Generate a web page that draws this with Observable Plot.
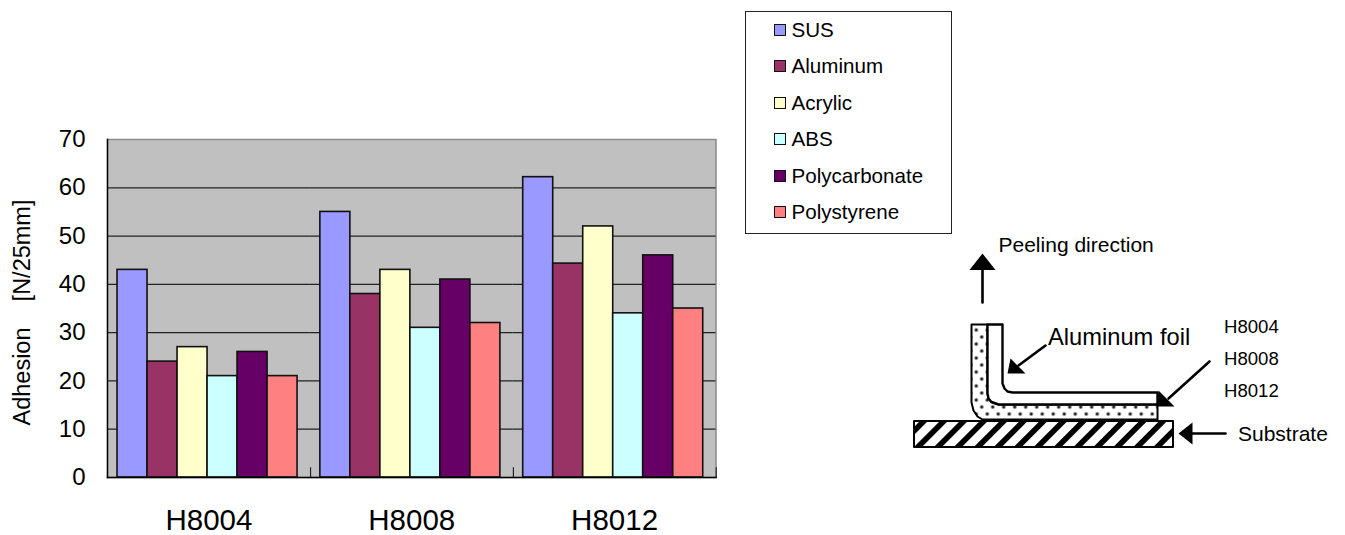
<!DOCTYPE html>
<html>
<head>
<meta charset="utf-8">
<script src="https://cdn.jsdelivr.net/npm/d3@7"></script>
<script src="https://cdn.jsdelivr.net/npm/@observablehq/plot@0.6"></script>
<style>
html,body{margin:0;padding:0;background:#fff;overflow:hidden}
body{width:1345px;height:535px;position:relative;font-family:"Liberation Sans",Arial,sans-serif;color:#000}
#chart,#diagram{position:absolute;left:0;top:0}
#chart svg,#diagram svg{display:block;background:transparent}
#legend{position:absolute;left:745px;top:11px;width:205px;height:221px;border:1px solid #222;box-sizing:content-box}
#legend .row{position:absolute;left:28px;display:flex;align-items:center;height:24px;font-size:20.6px;white-space:nowrap}
#legend .sw{width:10px;height:10px;border:1.5px solid #111;margin-right:5.5px;flex:none}
</style>
</head>
<body>
<svg width="0" height="0" style="position:absolute">
  <defs>
    <pattern id="dots" patternUnits="userSpaceOnUse" width="11" height="14" patternTransform="translate(973,326)">
      <rect width="11" height="14" fill="#fff"/>
      <circle cx="2.75" cy="3.5" r="1.7" fill="#222"/>
      <circle cx="8.25" cy="10.5" r="1.7" fill="#222"/>
    </pattern>
    <pattern id="hatch" patternUnits="userSpaceOnUse" width="14.1" height="14.1" patternTransform="translate(920,420) rotate(45)">
      <rect width="14.1" height="14.1" fill="#fff"/>
      <rect width="5.6" height="14.1" fill="#000"/>
    </pattern>
  </defs>
</svg>
<div id="chart"></div>
<div id="diagram"></div>
<div id="legend"></div>
<script>
const categories = ["H8004", "H8008", "H8012"];
const materials = ["SUS", "Aluminum", "Acrylic", "ABS", "Polycarbonate", "Polystyrene"];
const colors = ["#9999ff", "#993366", "#ffffcc", "#ccffff", "#660066", "#ff8080"];
const valuesH8004 = [43, 24, 27, 21, 26, 21];
const valuesH8008 = [55, 38, 43, 31, 41, 32];
const valuesH8012 = [62.2, 44.3, 52, 34, 46, 35];
const gridTicks = [10, 20, 30, 40, 50, 60];
const yTicks = [0, 10, 20, 30, 40, 50, 60, 70];
const yTitle = "Adhesion\u00a0\u00a0\u00a0\u00a0[N/25mm]";

const rows = [valuesH8004, valuesH8008, valuesH8012].flatMap((vals, i) =>
  vals.map((value, j) => ({category: categories[i], material: materials[j], value})));

const font = '"Liberation Sans", Arial, sans-serif';

const chart = Plot.plot({
  width: 1345, height: 535,
  marginLeft: 107, marginRight: 629.5, marginTop: 139, marginBottom: 58,
  style: {fontFamily: font, color: "#000", background: "transparent"},
  fx: {domain: categories, padding: 0, label: null, round: false},
  x: {domain: materials, paddingInner: 0, paddingOuter: 0.38, align: 0.44, axis: null, label: null, round: false},
  y: {domain: [0, 70], label: null},
  color: {domain: materials, range: colors},
  marks: [
    Plot.frame({fill: "#c0c0c0", stroke: "#8a8a8a", strokeWidth: 1.5, facet: "super"}),
    Plot.ruleY(gridTicks, {stroke: "#222", strokeWidth: 1.2}),
    Plot.axisY({ticks: yTicks, tickSize: 0, tickPadding: 22, fontSize: 24, label: null, anchor: "left"}),
    Plot.axisFx({tickSize: 0, tickPadding: 32, fontSize: 29.5, label: null, anchor: "bottom"}),
    Plot.ruleX(categories, {fx: d => d, x: () => materials[materials.length - 1], y1: 0, y2: 2, dx: 28, stroke: "#222", strokeWidth: 1.2}),
    Plot.barY(rows, {fx: "category", x: "material", y: "value", fill: "material", stroke: "#111", strokeWidth: 1.6}),
    Plot.frame({anchor: "left", stroke: "#000", strokeWidth: 1.4, facet: "super"}),
    Plot.frame({anchor: "bottom", stroke: "#000", strokeWidth: 1.6, facet: "super"})
  ]
});
document.getElementById("chart").append(chart);

/* Peel-test sketch, in page pixels */
const adhesiveOutline = [[971,324],[987,324],[987,393],[988,398],[991,401.5],[998,404],[1157,404],[1157,419],[982,419],[977,416],[973,410],[971,402],[971,324]];
const foilOutline = [[987,324],[1002,324],[1002,383],[1004,388],[1007,391],[1012,392],[1157,392],[1157,404],[998,404],[991,401.5],[988,398],[987,393],[987,324]];
const substrateOutline = [[913.5,420.5],[1172.5,420.5],[1172.5,446.5],[913.5,446.5],[913.5,420.5]];
const shafts = [
  [[982,302],[982,268]],
  [[1045,345],[1018,365]],
  [[1209,361],[1168,398]],
  [[1225,433],[1191,433]]
];
const heads = [
  [[982,253],[969,269.5],[995,269.5]],
  [[1007,373],[1025,373],[1010,358]],
  [[1158,390],[1157,406],[1174,406]],
  [[1178,433],[1192,422],[1192,444]]
];
const labels = [
  {t: "Peeling direction", x: 998, y: 251, s: 21},
  {t: "Aluminum foil", x: 1047.5, y: 344, s: 23.7},
  {t: "H8004", x: 1223.5, y: 332, s: 18.6},
  {t: "H8008", x: 1223.5, y: 364, s: 18.6},
  {t: "H8012", x: 1223.5, y: 396, s: 18.6},
  {t: "Substrate", x: 1237.5, y: 440, s: 21}
];
const shape = (pts, o) => Plot.line(pts, {x: d => d[0], y: d => d[1], curve: "linear", ...o});

const diagram = Plot.plot({
  width: 1345, height: 535, margin: 0,
  x: {domain: [0, 1345], range: [0, 1345], axis: null},
  y: {domain: [0, 535], range: [0, 535], axis: null},
  style: {fontFamily: font, color: "#000", background: "transparent"},
  marks: [
    shape(adhesiveOutline, {fill: "url(#dots)", stroke: "#000", strokeWidth: 2}),
    shape(foilOutline, {fill: "#fff", stroke: "#000", strokeWidth: 2.4}),
    shape(substrateOutline, {fill: "url(#hatch)", stroke: "#000", strokeWidth: 2}),
    ...shafts.map(p => shape(p, {stroke: "#000", strokeWidth: 2.6})),
    ...heads.map(p => shape(p, {fill: "#000", stroke: "none"})),
    Plot.text(labels, {x: "x", y: "y", text: "t", fontSize: "s", textAnchor: "start", lineAnchor: "bottom", fill: "#000"}),
    Plot.text([yTitle], {x: () => 22, y: () => 312, rotate: -90, fontSize: 23.5, fill: "#000"})
  ]
});
document.getElementById("diagram").append(diagram);

const legend = document.getElementById("legend");
materials.forEach((m, i) => {
  const row = document.createElement("div");
  row.className = "row";
  row.style.top = Math.round(6 + i * 36.4) + "px";
  const sw = document.createElement("span");
  sw.className = "sw";
  sw.style.background = colors[i];
  const tx = document.createElement("span");
  tx.textContent = m;
  row.append(sw, tx);
  legend.append(row);
});
</script>
</body>
</html>
